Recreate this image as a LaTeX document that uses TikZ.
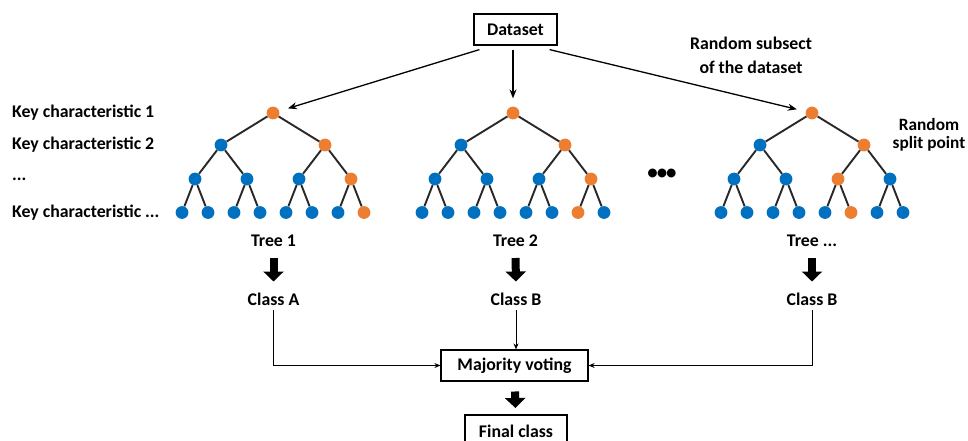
\documentclass[tikz,border=0pt]{standalone}
\usepackage{fontspec}
\setmainfont{Carlito}
\usetikzlibrary{arrows.meta,calc}
\definecolor{orng}{RGB}{237,125,49}
\definecolor{blu}{RGB}{0,112,192}
\definecolor{edgec}{RGB}{40,40,40}
\tikzset{
  dot/.style={circle,minimum size=12.8pt,inner sep=0pt,fill=#1},
  tedge/.style={draw=edgec,line width=1.9pt},
  lbl/.style={font=\fontsize{17.8}{20}\selectfont\bfseries,inner sep=0pt},
  klbl/.style={font=\fontsize{17.8}{20}\selectfont\bfseries,inner sep=0pt,anchor=west},
  boxn/.style={draw,line width=1.2pt,font=\fontsize{17.8}{20}\selectfont\bfseries,inner sep=0pt},
  dsarr/.style={line width=1.3pt,-{Stealth[length=9pt,width=7pt]},shorten >=9pt},
  thinarr/.style={line width=1pt,-{Stealth[length=6pt,width=5pt]}},
  bigarr/.style={line width=8pt,-{Triangle[length=10pt,width=20pt]}},
}
\newcommand\mytree[4]{%
  \node[dot=orng] (#1-1-0) at (#2,113) {};
  \node[dot=blu] (#1-2-0) at ({#2-52},145) {};
  \node[dot=orng] (#1-2-1) at ({#2+52},145) {};
  \foreach \k in {0,...,3}{%
    \ifnum\k=#3\relax\def\cc{orng}\else\def\cc{blu}\fi
    \node[dot=\cc] (#1-3-\k) at ({#2-78+52*\k},179) {};}
  \foreach \k in {0,...,7}{%
    \ifnum\k=#4\relax\def\cc{orng}\else\def\cc{blu}\fi
    \node[dot=\cc] (#1-4-\k) at ({#2-91+26*\k},212.5) {};}
  \draw[tedge] (#1-1-0) -- (#1-2-0);
  \draw[tedge] (#1-1-0) -- (#1-2-1);
  \foreach \k in {0,...,3}{%
    \pgfmathtruncatemacro\pp{floor(\k/2)}
    \draw[tedge] (#1-2-\pp) -- (#1-3-\k);}
  \foreach \k in {0,...,7}{%
    \pgfmathtruncatemacro\pp{floor(\k/2)}
    \draw[tedge] (#1-3-\pp) -- (#1-4-\k);}
}
\begin{document}
\begin{tikzpicture}[x=1pt,y=-1pt]
\clip (0,0) rectangle (968,441);
\fill[white] (0,0) rectangle (968,441);

% Trees
\mytree{ta}{273}{3}{7}
\mytree{tb}{513}{3}{6}
\mytree{tc}{812}{2}{5}

% Dataset
\node[boxn,minimum width=83pt,minimum height=31pt] (ds) at (515.5,29.5) {Dataset};
\coordinate (dsl) at ($(ds.south west)+(6,4)$);
\coordinate (dsm) at (ds.south -| tb-1-0);
\coordinate (dsm2) at ($(dsm)+(0,4)$);
\coordinate (dsr) at ($(ds.south east)+(-8,4)$);
\draw[dsarr] (dsl) -- (ta-1-0);
\draw[dsarr,shorten >=8pt] (dsm2) -- (tb-1-0);
\draw[dsarr] (dsr) -- (tc-1-0);

% Annotations
\node[lbl,align=center,font=\fontsize{17.8}{24}\selectfont\bfseries] (rs) at (751,55) {Random subsect\\of the dataset};
\node[lbl,align=center,font=\fontsize{17.3}{17.6}\selectfont\bfseries] (rsp) at (929,134.5) {Random\\split point};

\node[klbl] (k1) at (12,113) {Key characteristic 1};
\node[klbl] (k2) at (12,145) {Key characteristic 2};
\node[klbl] (k3) at (12,179) {...};
\node[klbl] (k4) at (12,213) {Key characteristic ...};

\node[lbl,font=\fontsize{25}{25}\selectfont] (dots) at (662,175) {\char"2022\kern-3pt\char"2022\kern-3pt\char"2022};

% Tree labels and classes
\node[lbl] (tla) at (273.5,241) {Tree 1};
\node[lbl] (tlb) at (515.5,241) {Tree 2};
\node[lbl] (tlc) at (812,241) {Tree ...};
\node[lbl,inner sep=4pt] (ca) at (273.5,299.5) {Class A};
\node[lbl,inner sep=4pt] (cb) at (516,299.5) {Class B};
\node[lbl,inner sep=4pt] (cc) at (812,299.5) {Class B};

\draw[bigarr,shorten <=17pt,shorten >=18pt] (tla.center) -- (ca.center);
\draw[bigarr,shorten <=17pt,shorten >=18pt] (tlb.center) -- (cb.center);
\draw[bigarr,shorten <=17pt,shorten >=18pt] (tlc.center) -- (cc.center);

% Voting
\node[boxn,minimum width=147pt,minimum height=31pt] (mv) at (514.5,365.5) {Majority voting};
\node[boxn,minimum width=102pt,minimum height=32pt] (fc) at (516,431) {Final class};

\draw[thinarr] (ca.south) |- (mv.west);
\draw[thinarr] (cb.south) -- (cb.south |- mv.north);
\draw[thinarr] (cc.south) |- (mv.east);
\draw[bigarr,shorten <=26pt,shorten >=23pt] (mv.center) -- (fc.center);
\end{tikzpicture}
\end{document}
